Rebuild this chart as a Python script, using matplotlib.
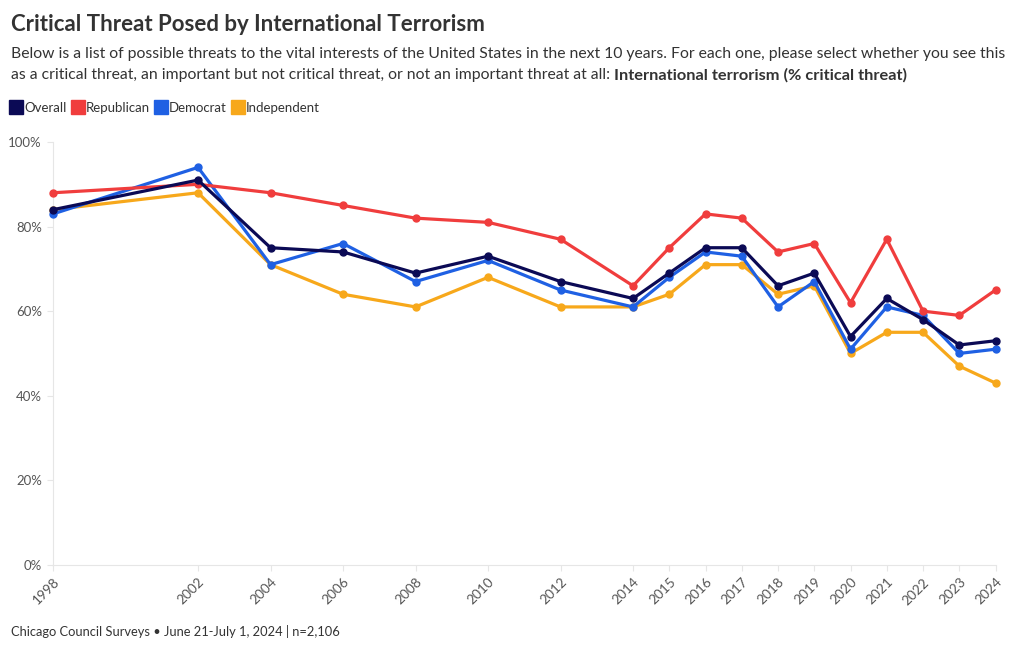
import matplotlib
matplotlib.use("Agg")
import matplotlib.pyplot as plt
from matplotlib.lines import Line2D
from matplotlib.ticker import FuncFormatter

plt.rcParams['font.family'] = ['Lato', 'DejaVu Sans']

# Survey years and % saying international terrorism is a critical threat
years = [1998, 2002, 2004, 2006, 2008, 2010, 2012, 2014, 2015, 2016,
         2017, 2018, 2019, 2020, 2021, 2022, 2023, 2024]
overall = [84, 91, 75, 74, 69, 73, 67, 63, 69, 75, 75, 66, 69, 54, 63, 58, 52, 53]
republican = [88, 90, 88, 85, 82, 81, 77, 66, 75, 83, 82, 74, 76, 62, 77, 60, 59, 65]
democrat = [83, 94, 71, 76, 67, 72, 65, 61, 68, 74, 73, 61, 67, 51, 61, 59, 50, 51]
independent = [84, 88, 71, 64, 61, 68, 61, 61, 64, 71, 71, 64, 66, 50, 55, 55, 47, 43]

series_names = ['Overall', 'Republican', 'Democrat', 'Independent']
colors = ['#0b0a55', '#f03d3d', '#1f60e3', '#f7a81b']

fig = plt.figure(figsize=(10.2, 6.5), dpi=100)
ax = fig.add_axes([0.052, 0.131, 0.924, 0.6505])

# draw order: independent at back, overall on top
order = [(independent, 3), (democrat, 2), (republican, 1), (overall, 0)]
for vals, i in order:
    ax.plot(years, vals, color=colors[i], lw=2.3, marker='o', markersize=5,
            solid_joinstyle='round', zorder=3 + (3 - i), clip_on=False)

ax.set_xlim(1998, 2024)
ax.set_ylim(0, 100)
ax.set_xticks(years)
ax.set_xticklabels([str(y) for y in years], rotation=45, ha='right',
                   rotation_mode='anchor', fontsize=9.8, color='#555555')
ax.set_yticks([0, 20, 40, 60, 80, 100])
ax.yaxis.set_major_formatter(FuncFormatter(lambda v, p: f"{int(v)}%"))
ax.tick_params(axis='y', labelsize=9.5, labelcolor='#555555', length=4,
               color='#e6e6e6', pad=4)
ax.tick_params(axis='x', length=4, color='#e6e6e6', pad=4)
for s in ['top', 'right']:
    ax.spines[s].set_visible(False)
ax.spines['left'].set_color('#e6e6e6')
ax.spines['bottom'].set_color('#e6e6e6')

# title, subtitle
fig.text(0.011, 0.963, 'Critical Threat Posed by International Terrorism',
         fontsize=16, fontweight='bold', color='#333333', va='center')
fig.text(0.011, 0.917,
         'Below is a list of possible threats to the vital interests of the United States in the next 10 years. '
         'For each one, please select whether you see this',
         fontsize=11.35, color='#333333', va='center')
t2 = fig.text(0.011, 0.884,
              'as a critical threat, an important but not critical threat, or not an important threat at all: ',
              fontsize=11.35, color='#333333', va='center')
fig.canvas.draw()
bb = t2.get_window_extent().transformed(fig.transFigure.inverted())
fig.text(bb.x1, 0.884, 'International terrorism (% critical threat)',
         fontsize=11.8, fontweight='bold', color='#333333', va='center')

handles = [Line2D([], [], linestyle='', marker='s', markersize=10,
                  markerfacecolor=c, markeredgecolor=c) for c in colors]
fig.legend(handles, series_names, loc='center left', bbox_to_anchor=(0.0, 0.834),
           ncol=4, frameon=False, fontsize=9.5, handlelength=0.7, handletextpad=0.25,
           columnspacing=0.5, labelcolor='#333333')

fig.text(0.011, 0.028, 'Chicago Council Surveys \u2022 June 21-July 1, 2024 | n=2,106',
         fontsize=9.3, color='#333333', va='center')

fig.savefig('out.png', dpi=100)
